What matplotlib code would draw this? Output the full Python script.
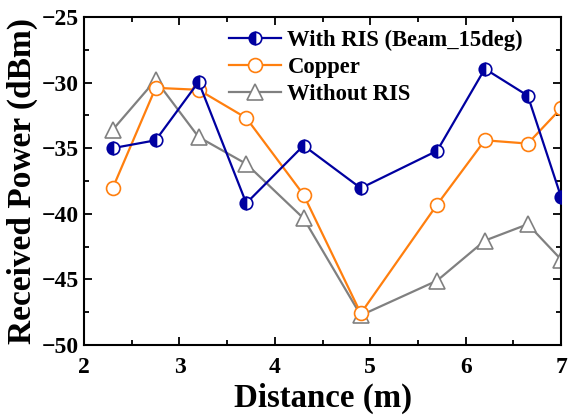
import numpy as np
import matplotlib
matplotlib.use("Agg")
import matplotlib.pyplot as plt
from matplotlib.ticker import MultipleLocator

# Data
distance = [2.3, 2.75, 3.2, 3.7, 4.3, 4.9, 5.7, 6.2, 6.65, 7.0]
with_ris = [-35.0, -34.4, -29.95, -39.2, -34.8, -38.05, -35.2, -28.95, -31.0, -38.75]
copper = [-38.05, -30.4, -30.55, -32.7, -38.55, -47.6, -39.3, -34.4, -34.65, -31.95]
without_ris = [-33.6, -29.8, -34.15, -36.2, -40.35, -47.75, -45.1, -42.05, -40.8, -43.5]

plt.rcParams["font.family"] = ["Liberation Serif", "DejaVu Serif"]
plt.rcParams["font.weight"] = "bold"

fig = plt.figure(figsize=(5.68, 4.15), dpi=100)
ax = fig.add_axes([0.148, 0.169, 0.840, 0.790])

ax.plot(distance, with_ris, color="#0000a0", lw=1.6, marker="o", ms=9,
        fillstyle="left", markerfacecolor="#0000a0", markerfacecoloralt="white",
        markeredgecolor="#0000a0", markeredgewidth=1.2,
        label="With RIS (Beam_15deg)", zorder=3)
ax.plot(distance, copper, color="#ff7f0e", lw=1.6, marker="o", ms=10,
        markerfacecolor="white", markeredgecolor="#ff7f0e", markeredgewidth=1.2,
        label="Copper", zorder=2)
ax.plot(distance, without_ris, color="#808080", lw=1.6, marker="^", ms=11,
        markerfacecolor="white", markeredgecolor="#808080", markeredgewidth=1.2,
        label="Without RIS", zorder=1)

ax.set_xlim(2, 7)
ax.set_ylim(-50, -25)
ax.xaxis.set_major_locator(MultipleLocator(1))
ax.xaxis.set_minor_locator(MultipleLocator(0.5))
ax.yaxis.set_major_locator(MultipleLocator(5))
ax.yaxis.set_minor_locator(MultipleLocator(2.5))
ax.tick_params(which="both", direction="in", top=True, right=True, width=1.3)
ax.tick_params(which="major", length=6, labelsize=17)
ax.tick_params(which="minor", length=3.5)
ax.tick_params(axis="x", which="major", pad=9)
for s in ax.spines.values():
    s.set_linewidth(1.5)

ax.set_xlabel("Distance (m)", fontsize=23.7, fontweight="bold", labelpad=3)
ax.set_ylabel("Received Power (dBm)", fontsize=24, fontweight="bold", labelpad=3)

ax.legend(loc="upper left", bbox_to_anchor=(0.284, 0.99), frameon=False,
          prop={"size": 16.3, "weight": "bold"}, handlelength=2.3,
          labelspacing=0.28, borderaxespad=0.0, handletextpad=0.3)

fig.savefig("out.png", dpi=100)
